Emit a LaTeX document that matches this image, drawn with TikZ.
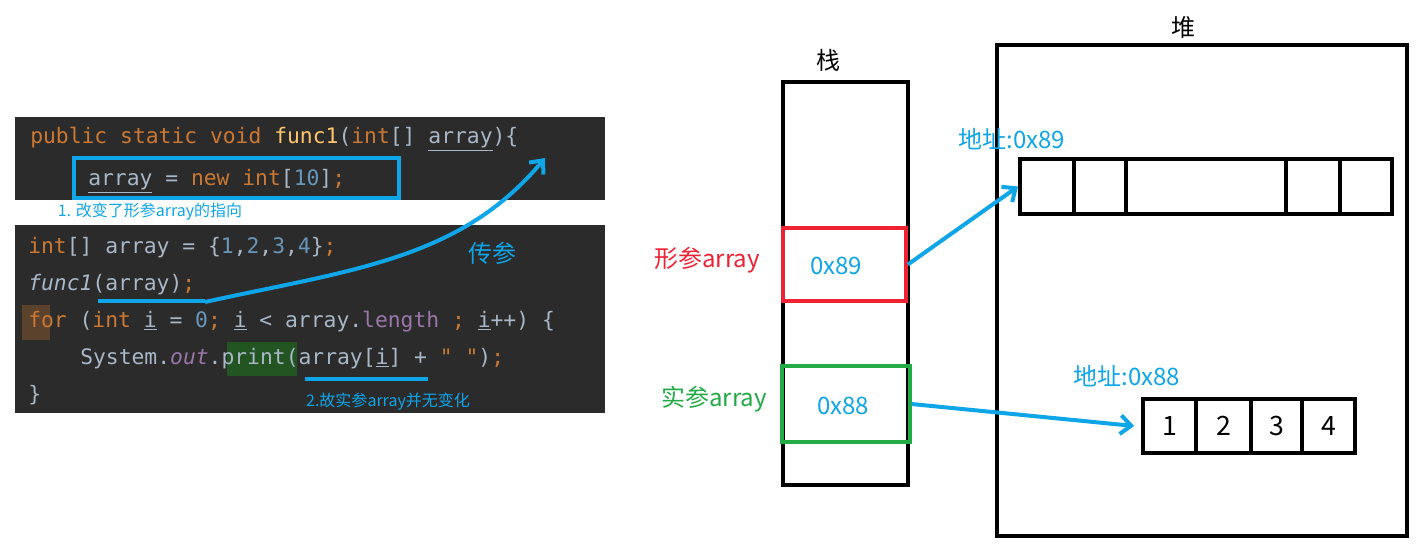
\documentclass[tikz,border=0pt]{standalone}
\usepackage{fontspec}
\newfontfamily\cjk{Noto Sans CJK SC}
\newfontfamily\mono{DejaVu Sans Mono}
\usetikzlibrary{arrows.meta}
\definecolor{bg}{HTML}{2B2B2B}
\definecolor{kw}{HTML}{CC7832}
\definecolor{tx}{HTML}{A9B7C6}
\definecolor{nm}{HTML}{6897BB}
\definecolor{fn}{HTML}{FFC66D}
\definecolor{pu}{HTML}{9876AA}
\definecolor{bl}{HTML}{0EA5E9}
\definecolor{rd}{HTML}{EE2233}
\definecolor{gr}{HTML}{22AA44}
\tikzset{code/.style={anchor=west,inner sep=0,font=\mono\fontsize{16}{18}\selectfont,text=tx},
lab/.style={font=\cjk\fontsize{18}{20}\selectfont,inner sep=0},
bk/.style={draw=black,line width=3pt},
arr/.style={draw=bl,line width=3pt,-{Straight Barb[length=8pt,width=14pt]}},
cell/.style={draw=black,line width=3pt,minimum height=41pt,inner sep=0,font=\cjk\fontsize{20}{22}\selectfont}}
\begin{document}
\begin{tikzpicture}[x=0.75pt,y=-0.75pt]
\useasboundingbox (0,0) rectangle (1424,554);
\fill[bg] (15,117) rectangle (605,200);
\fill[bg] (15,225) rectangle (605,413);
\fill[kw!30!bg] (22,305) rectangle (50,340);
\fill[green!20!bg] (227,342) rectangle (297,376);
\node[code] (l1) at (30,139) {\textcolor{kw}{public static void} \textcolor{fn}{func1}(\textcolor{kw}{int}[] \underline{array})\{};
\node[code] (l2) at (88,181) {\underline{array} = \textcolor{kw}{new int}[\textcolor{nm}{10}]\textcolor{kw}{;}};
\node[code] (l3) at (28,248) {\textcolor{kw}{int}[] array = \{\textcolor{nm}{1},\textcolor{nm}{2},\textcolor{nm}{3},\textcolor{nm}{4}\}\textcolor{kw}{;}};
\node[code] (l4) at (28,285) {\textit{func1}(array)\textcolor{kw}{;}};
\node[code] (l5) at (28,322) {\textcolor{kw}{for} (\textcolor{kw}{int} \underline{i} = \textcolor{nm}{0}\textcolor{kw}{;} \underline{i} < array.\textcolor{pu}{length} \textcolor{kw}{;} \underline{i}++) \{};
\node[code] (l6) at (80,359) {System.\textcolor{pu}{\textit{out}}.print(array[\underline{i}] + \textcolor{kw}{" "})\textcolor{kw}{;}};
\node[code] (l7) at (28,395) {\}};
\draw[bl,line width=3pt] (74,158) rectangle (399,198);
\draw[bl,line width=3pt] (98,301) -- (205,301);
\draw[bl,line width=3pt] (305,379) -- (428,379);
\node[lab,text=bl,font=\cjk\fontsize{12}{14}\selectfont] (n1) at (150,212) {1. 改变了形参array的指向};
\node[lab,text=bl,font=\cjk\fontsize{12}{14}\selectfont] (n2) at (388,402) {2.故实参array并无变化};
\node[lab,text=bl] (cc) at (492,253) {传参};
\coordinate (cs) at (205,302);
\coordinate (ce) at (545,158);
\draw[arr] (cs) .. controls (350,270) and (460,260) .. (ce);
% stack
\node[lab] (zh) at (828,60) {栈};
\draw[bk] (783,82) rectangle (908,485);
\node[draw=rd,line width=3pt,minimum width=92pt,minimum height=55pt,inner sep=0] (red) at (844.5,264.5) {};
\node[draw=gr,line width=3pt,minimum width=96pt,minimum height=57pt,inner sep=0] (grn) at (845.5,404) {};
\node[lab,text=bl] at (836,266) {0x89};
\node[lab,text=bl] at (843,406) {0x88};
\node[lab,text=rd] (xc) at (707,260) {形参array};
\node[lab,text=gr] (sc) at (714,399) {实参array};
% heap
\node[lab] (dui) at (1183,27) {堆};
\draw[bk] (997,45) rectangle (1407,536);
\node[lab,text=bl] (a1) at (1012,139) {地址:0x89};
\node[lab,text=bl] (a2) at (1127,376) {地址:0x88};
\node[cell,minimum width=40.5pt] (t1) at (1047,186.5) {};
\node[cell,minimum width=39pt] (t2) at (1100,186.5) {};
\node[cell,minimum width=120pt] (t3) at (1206,186.5) {};
\node[cell,minimum width=40.5pt] (t4) at (1313,186.5) {};
\node[cell,minimum width=39pt] (t5) at (1366,186.5) {};
\node[cell,minimum width=40pt] (b1) at (1169.5,426) {1};
\node[cell,minimum width=41pt] (b2) at (1223.5,426) {2};
\node[cell,minimum width=38pt] (b3) at (1276.5,426) {3};
\node[cell,minimum width=40pt] (b4) at (1328.5,426) {4};
\draw[arr] (red.east) -- (t1.west);
\draw[arr] (grn.east) -- ([xshift=-5pt]b1.west);
\end{tikzpicture}
\end{document}
